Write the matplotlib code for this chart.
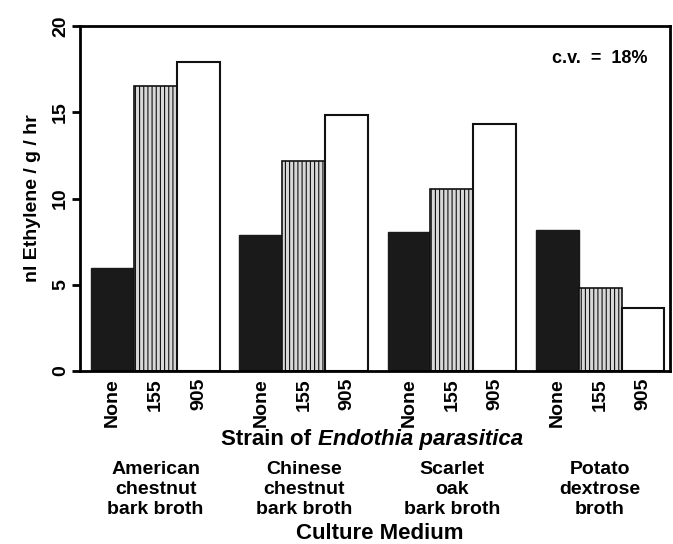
import matplotlib.pyplot as plt
import matplotlib.transforms as mtransforms
import numpy as np

plt.rcParams['font.family'] = ['Liberation Sans', 'DejaVu Sans']
plt.rcParams['font.weight'] = 'bold'
plt.rcParams['axes.labelweight'] = 'bold'
plt.rcParams['hatch.linewidth'] = 0.8

# Dados
meios = ['American\nchestnut\nbark broth', 'Chinese\nchestnut\nbark broth',
         'Scarlet\noak\nbark broth', 'Potato\ndextrose\nbroth']
cepas = ['None', '155', '905']
valores_none = [6.0, 7.9, 8.05, 8.2]
valores_155 = [16.5, 12.2, 10.55, 4.8]
valores_905 = [17.9, 14.85, 14.3, 3.65]

# Posições
passo = 3.45
centros = np.arange(len(meios)) * passo
largura = 1.0

fig = plt.figure(figsize=(6.73, 5.44), dpi=100)
ax = fig.add_axes([0.119, 0.318, 0.876, 0.634])

ax.bar(centros - largura, valores_none, largura, color='#1a1a1a',
       edgecolor='#1a1a1a', linewidth=1.0)
ax.bar(centros, valores_155, largura, color='#d8d8d8', edgecolor='#111111',
       hatch='||||', linewidth=1.2)
ax.bar(centros + largura, valores_905, largura, color='white',
       edgecolor='#111111', linewidth=1.5)

# Eixos
ax.set_xlim(-1.76, centros[-1] + 1.5 + 0.12)
ax.set_ylim(0, 20)
ax.set_yticks([0, 5, 10, 15, 20])
ax.set_yticklabels(['0', '5', '10', '15', '20'], rotation=90, va='center',
                   fontsize=14)
ax.tick_params(axis='y', direction='out', length=6, width=2, pad=2)
for s in ax.spines.values():
    s.set_linewidth(2)

xt = np.concatenate([centros - largura, centros, centros + largura])
xl = cepas[:1] * 4 + cepas[1:2] * 4 + cepas[2:] * 4
ax.set_xticks(xt)
ax.set_xticklabels(xl, rotation=90, fontsize=14)
ax.tick_params(axis='x', length=0, pad=5)

ax.set_ylabel('nl Ethylene / g / hr', fontsize=14, labelpad=8)

ax.text(0.963, 0.905, 'c.v.  =  18%', transform=ax.transAxes,
        ha='right', va='center', fontsize=13)

# Rótulos abaixo do eixo
trans = mtransforms.blended_transform_factory(ax.transData, fig.transFigure)
t1 = fig.text(0.5, 0.192, 'Strain of ', ha='right', va='center', fontsize=16)
t2 = fig.text(0.5, 0.192, 'Endothia parasitica', ha='left', va='center',
              fontsize=16, style='italic')
fig.canvas.draw()
r = fig.canvas.get_renderer()
w1 = t1.get_window_extent(r).width
w2 = t2.get_window_extent(r).width
xc = 372.0 / 673
meio = xc + (w1 - w2) / 2 / 673
t1.set_x(meio)
t2.set_x(meio)

for c, m in zip(centros, meios):
    ax.text(c, 0.1, m, transform=trans, ha='center', va='center',
            fontsize=14, linespacing=1.2)
fig.text(0.565, 0.02, 'Culture Medium', ha='center', va='center',
         fontsize=16)

fig.savefig('out.png', dpi=100)
